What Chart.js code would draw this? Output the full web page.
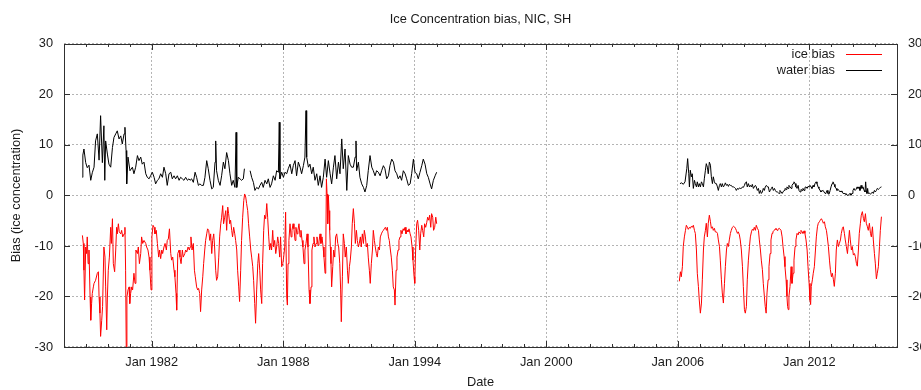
<!DOCTYPE html>
<html><head><meta charset="utf-8">
<script src="https://cdn.jsdelivr.net/npm/chart.js@4/dist/chart.umd.min.js"></script>
<style>html,body{margin:0;padding:0;background:#fff;}canvas{display:block;}</style>
</head><body>
<canvas id="c" width="921" height="390"></canvas>
<script>
const titleText = 'Ice Concentration bias, NIC, SH';
const xTitle = 'Date';
const yTitle = 'Bias (ice concentration)';
const seriesNames = ['ice bias', 'water bias'];
const xTickYears = [1982, 1988, 1994, 2000, 2006, 2012];
const yTickValues = [-30, -20, -10, 0, 10, 20, 30];

const iceYears = [
1978.84,1978.88,1978.91,1978.94,1978.99,1979.03,1979.06,1979.10,1979.14,1979.19,
1979.22,1979.26,1979.29,1979.34,1979.37,1979.44,1979.52,1979.57,1979.60,1979.64,
1979.67,1979.72,1979.76,1979.82,1979.87,1979.90,1979.95,1979.98,1980.02,1980.07,
1980.13,1980.16,1980.21,1980.25,1980.31,1980.36,1980.40,1980.43,1980.48,1980.52,
1980.59,1980.63,1980.68,1980.74,1980.78,1980.81,1980.84,1980.87,1980.92,1980.97,
1981.00,1981.04,1981.09,1981.13,1981.19,1981.24,1981.28,1981.35,1981.39,1981.44,
1981.50,1981.54,1981.59,1981.65,1981.73,1981.77,1981.83,1981.88,1981.92,1981.97,
1982.01,1982.06,1982.11,1982.15,1982.21,1982.26,1982.32,1982.36,1982.41,1982.46,
1982.50,1982.56,1982.61,1982.67,1982.71,1982.76,1982.81,1982.87,1982.91,1982.96,
1983.02,1983.06,1983.11,1983.14,1983.19,1983.25,1983.29,1983.34,1983.40,1983.44,
1983.51,1983.55,1983.60,1983.66,1983.72,
1983.75,1983.79,1983.84,1983.90,1983.95,1983.99,1984.05,1984.10,1984.14,1984.19,
1984.23,1984.28,1984.33,1984.37,1984.42,1984.46,1984.51,1984.55,1984.60,1984.65,
1984.69,1984.74,1984.78,1984.83,1984.87,1984.92,1984.96,1985.01,1985.06,1985.10,
1985.15,1985.19,1985.24,1985.28,1985.33,1985.38,1985.42,1985.47,1985.51,1985.56,
1985.60,1985.65,1985.69,1985.74,1985.79,1985.83,1985.88,1985.92,1985.97,1986.01,
1986.06,1986.10,1986.15,1986.20,1986.24,1986.29,1986.33,1986.38,1986.42,1986.47,
1986.52,1986.56,1986.61,1986.65,1986.70,1986.74,1986.79,1986.84,1986.88,1986.93,
1986.97,1987.02,1987.06,1987.11,1987.15,1987.20,1987.25,1987.29,1987.34,1987.38,
1987.43,1987.47,1987.52,1987.56,1987.61,1987.66,1987.70,1987.75,1987.79,1987.84,
1987.88,1987.93,1987.98,1988.02,1988.07,1988.11,1988.16,1988.19,1988.22,1988.26,
1988.31,1988.36,1988.40,1988.45,1988.49,1988.54,1988.58,1988.63,1988.67,1988.72,
1988.77,1988.81,1988.86,1988.90,1988.95,1988.99,1989.04,1989.09,1989.13,1989.18,
1989.22,1989.27,1989.31,1989.36,1989.40,
1989.45,1989.50,1989.54,1989.59,1989.63,1989.68,1989.72,1989.77,1989.82,1989.86,
1989.91,1989.94,1989.97,1990.00,1990.03,1990.06,1990.09,1990.12,1990.15,1990.18,
1990.21,1990.26,1990.30,1990.35,1990.39,1990.44,1990.49,1990.53,1990.58,1990.62,
1990.65,1990.70,1990.74,1990.79,1990.83,1990.88,1990.93,1990.97,1991.02,1991.06,
1991.11,1991.15,1991.20,1991.25,1991.29,1991.34,1991.38,1991.43,1991.47,1991.52,
1991.56,1991.61,1991.66,1991.70,1991.75,1991.79,1991.84,1991.88,1991.93,1991.97,
1992.02,1992.07,1992.11,1992.16,1992.20,1992.25,1992.29,1992.34,1992.39,1992.43,
1992.48,1992.52,1992.57,1992.61,1992.66,1992.71,1992.75,1992.80,1992.84,1992.89,
1992.93,1992.98,1993.02,1993.07,1993.10,1993.15,1993.19,1993.24,1993.28,1993.33,
1993.37,1993.42,1993.47,1993.51,1993.56,1993.60,1993.65,1993.69,1993.74,1993.79,
1993.83,1993.88,1993.92,1993.97,1994.00,1994.04,1994.09,1994.13,1994.18,1994.23,
1994.27,1994.32,1994.36,1994.41,1994.45,1994.50,1994.55,1994.59,1994.64,1994.68,
1994.73,1994.77,1994.82,1994.86,1994.91,1994.96,1995.00,
2000.00,
2006.07,2006.12,2006.16,2006.21,2006.25,2006.30,2006.35,2006.39,2006.44,2006.48,
2006.53,2006.57,2006.62,2006.66,2006.71,2006.76,2006.80,2006.85,2006.89,2006.94,
2006.98,2007.03,2007.08,2007.12,2007.17,2007.21,2007.26,2007.30,2007.35,2007.39,
2007.44,2007.49,2007.53,2007.58,2007.62,2007.67,2007.71,2007.76,2007.81,2007.85,
2007.90,2007.94,2007.99,2008.03,2008.08,2008.13,2008.17,2008.22,2008.26,2008.31,
2008.35,2008.40,2008.44,2008.49,2008.54,2008.58,2008.63,2008.67,2008.72,2008.76,
2008.81,2008.85,2008.90,2008.95,2008.99,2009.04,2009.08,2009.13,2009.17,2009.22,
2009.27,2009.31,2009.36,2009.40,2009.45,2009.49,2009.54,2009.58,2009.63,2009.68,
2009.72,2009.77,2009.81,2009.86,2009.90,2009.95,2009.99,2010.03,2010.07,2010.12,
2010.16,2010.21,2010.25,2010.30,2010.34,2010.39,2010.44,2010.48,2010.53,2010.57,
2010.63,
2010.66,2010.71,2010.76,2010.80,2010.85,2010.89,2010.94,2010.98,2011.01,2011.04,
2011.07,2011.12,2011.17,2011.21,2011.26,2011.30,2011.35,2011.39,2011.44,2011.49,
2011.53,2011.58,2011.62,2011.67,2011.71,2011.76,2011.80,2011.85,2011.90,2011.94,
2011.99,2012.03,2012.06,2012.09,2012.14,2012.18,2012.23,2012.28,2012.32,2012.37,
2012.41,2012.46,2012.50,2012.55,2012.59,2012.64,2012.69,2012.73,2012.78,2012.82,
2012.87,2012.92,2012.96,2013.01,2013.05,2013.10,2013.14,2013.19,2013.23,2013.28,
2013.33,2013.37,2013.42,2013.46,2013.51,2013.55,2013.60,2013.64,2013.69,2013.74,
2013.78,2013.83,2013.87,2013.92,2013.96,2014.01,2014.06,2014.10,2014.15,2014.19,
2014.24,2014.28,2014.33,2014.37,2014.42,2014.47,2014.51,2014.56,2014.60,2014.65,
2014.69,2014.74,2014.79,2014.83,2014.88,2014.92,2014.97,2015.01,2015.06,2015.10,
2015.15,2015.20,2015.24,2015.29
];
const iceBias = [
-7.9,-9.5,-14.8,-20.7,-10.2,-11.5,-8.2,-13.5,-10.8,-20.1,
-24.7,-21.4,-19.4,-18.1,-17.4,-16.8,-15.4,-15.1,-20.1,-23.3,
-27.9,-24.7,-22.0,-10.2,-12.2,-18.1,-26.6,-20.1,-14.8,-12.2,
-6.3,-9.5,-4.6,-13.5,-15.1,-10.8,-6.3,-7.6,-5.6,-7.2,
-7.6,-6.9,-8.2,-7.6,-6.3,-14.8,-30.5,-20.1,-18.7,-18.1,
-21.4,-19.4,-18.1,-18.7,-15.4,-17.4,-10.8,-11.5,-10.2,-13.5,
-11.5,-8.2,-9.5,-8.9,-9.5,-10.2,-10.8,-12.2,-14.8,-18.7,
-8.2,-5.9,-6.3,-7.6,-6.9,-9.5,-12.2,-10.8,-12.5,-10.8,
-11.5,-10.2,-9.5,-10.8,-8.9,-8.6,-6.6,-11.5,-12.8,-12.2,
-14.8,-16.1,-19.4,-22.7,-11.5,-10.8,-12.2,-13.5,-10.8,-12.2,
-11.5,-10.8,-11.2,-10.2,-10.8,
-10.2,-8.2,-10.8,-9.5,-14.8,-16.1,-18.1,-18.7,-18.4,-19.4,
-23.0,-18.7,-16.1,-13.5,-10.8,-8.9,-7.6,-6.6,-6.9,-8.9,
-7.6,-11.5,-8.9,-7.6,-10.2,-14.8,-16.8,-16.1,-12.2,-8.2,
-5.6,-4.3,-2.0,-5.6,-4.3,-3.0,-6.9,-2.3,-3.6,-5.6,
-4.9,-6.9,-8.2,-6.3,-7.6,-8.9,-10.8,-14.8,-18.1,-21.0,
-14.8,-8.9,-4.3,-1.0,0.3,-0.3,-1.6,-3.0,-5.6,-8.2,
-10.8,-12.2,-14.1,-16.8,-21.4,-25.3,-18.7,-13.5,-11.5,-14.8,
-18.7,-21.4,-13.5,-6.9,-3.9,-4.6,-1.6,-4.3,-8.2,-10.8,
-9.5,-10.8,-6.9,-10.2,-8.9,-11.5,-10.2,-8.2,-9.5,-12.2,
-8.2,-14.1,-13.5,-12.2,-10.2,-3.3,-20.1,-21.7,-13.5,-8.9,
-5.6,-8.2,-6.9,-5.6,-6.6,-8.9,-6.3,-7.6,-6.9,-5.6,
-8.2,-6.9,-8.9,-10.2,-13.5,-10.8,-9.5,-7.6,-10.2,-18.7,
-21.4,-18.1,-10.8,-9.5,-8.2,
-10.2,-9.5,-8.2,-9.9,-9.2,-7.6,-9.5,-8.2,-10.2,-12.2,
-15.4,-12.2,3.3,0.3,-5.6,0.0,-3.0,-6.9,-10.2,-13.5,
-18.1,-14.1,-10.8,-12.2,-8.2,-7.6,-9.5,-10.2,-13.5,-18.7,
-25.0,-16.1,-7.6,-9.5,-12.2,-10.2,-14.8,-17.4,-14.1,-12.8,
-10.2,-5.6,-2.6,-5.6,-9.5,-6.9,-8.9,-10.2,-9.5,-8.2,
-10.2,-7.6,-9.5,-6.9,-8.2,-10.2,-9.5,-12.2,-14.8,-17.4,
-13.5,-10.8,-6.9,-8.9,-10.2,-11.5,-12.2,-10.2,-10.8,-8.2,
-7.6,-7.2,-6.9,-6.6,-6.3,-6.9,-6.3,-8.2,-8.9,-10.8,
-12.2,-14.8,-18.1,-18.7,-21.7,-14.8,-12.2,-10.8,-8.9,-8.2,
-6.9,-7.6,-6.6,-6.9,-6.3,-7.6,-6.9,-7.2,-6.6,-7.6,
-8.2,-10.2,-12.8,-16.1,-17.4,-10.8,-5.6,-4.9,-6.9,-10.8,
-7.6,-5.9,-6.9,-8.2,-5.6,-6.3,-5.3,-4.3,-4.9,-3.9,
-6.3,-3.6,-4.3,-6.9,-6.3,-4.3,-5.6,
null,
-17.0,-15.1,-16.1,-14.1,-10.1,-8.2,-6.9,-5.9,-6.3,-6.7,
-6.3,-6.5,-6.1,-6.3,-5.9,-6.9,-7.5,-10.8,-15.4,-18.0,
-20.7,-23.3,-21.3,-16.7,-10.8,-8.2,-6.9,-5.5,-8.2,-5.5,
-3.9,-5.2,-6.5,-6.2,-6.9,-6.5,-7.2,-7.2,-7.5,-8.8,
-10.1,-12.8,-16.7,-19.3,-21.3,-17.4,-14.1,-10.8,-9.5,-10.1,
-8.8,-7.5,-6.9,-6.3,-6.1,-6.2,-6.5,-6.9,-7.5,-7.2,
-7.8,-8.8,-10.8,-14.1,-18.0,-22.6,-23.3,-22.0,-16.7,-12.8,
-10.1,-8.2,-7.2,-6.7,-6.9,-6.3,-6.9,-5.9,-6.5,-6.9,
-8.8,-10.8,-12.8,-14.7,-17.4,-20.0,-22.0,-23.3,-19.3,-16.7,
-14.1,-11.5,-8.8,-7.5,-7.2,-6.9,-6.7,-6.5,-6.9,-6.7,
-6.5,
-6.5,-6.9,-8.2,-10.1,-12.1,-14.1,-16.7,-20.0,-22.0,-22.6,
-20.0,-18.0,-14.1,-17.4,-15.4,-12.8,-10.1,-8.8,-7.5,-7.8,
-7.2,-7.5,-6.9,-7.2,-7.5,-7.0,-7.5,-8.8,-10.8,-14.1,
-17.4,-20.7,-21.6,-18.0,-16.7,-15.4,-14.1,-10.8,-8.2,-6.2,
-5.5,-5.2,-4.9,-4.6,-4.9,-5.5,-5.2,-6.2,-6.9,-8.2,
-10.1,-12.8,-14.7,-16.1,-15.4,-16.7,-18.0,-15.4,-10.8,-8.8,
-10.1,-9.5,-8.8,-7.5,-6.5,-6.2,-7.5,-8.8,-10.1,-11.5,
-9.5,-6.9,-8.8,-10.8,-10.1,-11.8,-11.5,-12.1,-13.5,-14.0,
-10.8,-7.5,-5.5,-3.9,-3.2,-4.6,-5.2,-3.6,-5.5,-6.2,
-6.9,-5.5,-7.5,-8.2,-6.2,-8.8,-11.5,-13.4,-16.5,-15.4,
-14.1,-10.1,-6.9,-4.2
];

const waterYears = [
1978.84,1978.86,1978.91,1978.99,1979.06,1979.14,1979.22,1979.29,1979.37,1979.44,
1979.52,1979.60,1979.67,1979.75,1979.82,1979.86,1979.90,1979.98,1980.05,1980.13,
1980.21,1980.28,1980.36,1980.43,1980.51,1980.59,1980.66,1980.74,1980.78,1980.83,
1980.86,1980.92,1981.01,1981.12,1981.19,1981.27,1981.35,1981.42,1981.50,1981.57,
1981.65,1981.73,1981.80,1981.88,1981.95,1982.03,1982.11,1982.18,1982.26,1982.33,
1982.41,1982.49,1982.56,1982.64,1982.71,1982.79,1982.87,1982.94,1983.02,1983.09,
1983.17,1983.25,1983.32,1983.40,1983.47,1983.55,1983.63,1983.70,
1983.75,1983.82,1983.90,1983.98,1984.05,1984.13,1984.20,1984.28,1984.36,1984.43,
1984.51,1984.58,1984.66,1984.74,1984.81,1984.89,1984.92,1984.96,1985.04,1985.12,
1985.19,1985.27,1985.34,1985.42,1985.50,1985.57,1985.65,1985.72,1985.80,1985.85,
1985.88,1985.95,1986.03,1986.10,1986.18,1986.23,1986.36,1986.49,1986.56,1986.64,
1986.71,1986.79,1986.87,1986.94,1987.02,1987.09,1987.17,1987.25,1987.32,1987.40,
1987.47,1987.55,1987.63,1987.70,1987.78,1987.82,1987.85,1987.93,1988.01,1988.08,
1988.16,1988.23,1988.31,1988.39,1988.46,1988.54,1988.61,1988.69,1988.77,1988.84,
1988.92,1988.99,1989.04,1989.07,1989.15,1989.22,1989.30,1989.37,
1989.45,1989.53,1989.60,1989.68,1989.75,1989.83,1989.91,1989.98,1990.06,1990.14,
1990.21,1990.29,1990.36,1990.44,1990.52,1990.59,1990.67,1990.74,1990.82,1990.90,
1990.97,1991.05,1991.12,1991.20,1991.28,1991.32,1991.35,1991.43,1991.50,1991.58,
1991.66,1991.73,1991.81,1991.88,1991.96,1992.04,1992.11,1992.19,1992.26,1992.34,
1992.42,1992.49,1992.57,1992.64,1992.72,1992.80,1992.87,1992.95,1993.03,1993.10,
1993.18,1993.25,1993.33,1993.40,1993.48,1993.56,1993.63,1993.71,1993.79,1993.86,
1993.94,1994.01,1994.09,1994.16,1994.24,1994.32,1994.39,1994.47,1994.55,1994.62,
1994.70,1994.77,1994.85,1994.93,1995.00,
2000.00,
2006.10,2006.18,2006.25,2006.33,2006.41,2006.45,2006.50,2006.53,2006.57,2006.62,
2006.66,2006.71,2006.76,2006.80,2006.85,2006.89,2006.94,2006.98,2007.03,2007.08,
2007.12,2007.17,2007.21,2007.26,2007.30,2007.35,2007.39,2007.44,2007.49,2007.53,
2007.58,2007.62,2007.67,2007.71,2007.76,2007.81,2007.85,2007.90,2007.94,2007.99,
2008.03,2008.08,2008.13,2008.17,2008.22,2008.26,2008.31,2008.35,2008.40,2008.44,
2008.49,2008.54,2008.58,2008.63,2008.67,2008.72,2008.76,2008.81,2008.85,2008.90,
2008.95,2008.99,2009.04,2009.08,2009.13,2009.17,2009.22,2009.27,2009.31,2009.36,
2009.40,2009.45,2009.49,2009.54,2009.58,2009.63,2009.68,2009.72,2009.77,2009.81,
2009.86,2009.90,2009.95,2009.99,2010.04,2010.09,2010.13,2010.18,2010.22,2010.27,
2010.31,2010.36,2010.41,2010.45,2010.50,2010.54,2010.59,2010.63,
2010.66,2010.71,2010.76,2010.80,2010.85,2010.89,2010.94,2010.98,2011.03,2011.07,
2011.12,2011.17,2011.21,2011.26,2011.30,2011.35,2011.39,2011.44,2011.49,2011.53,
2011.58,2011.62,2011.67,2011.71,2011.76,2011.80,2011.85,2011.90,2011.94,2011.99,
2012.03,2012.08,2012.12,2012.17,2012.21,2012.26,2012.31,2012.35,2012.40,2012.44,
2012.49,2012.53,2012.58,2012.63,2012.67,2012.72,2012.76,2012.81,2012.85,2012.90,
2012.95,2012.99,2013.04,2013.08,2013.13,2013.17,2013.22,2013.26,2013.31,2013.36,
2013.40,2013.45,2013.49,2013.54,2013.58,2013.63,2013.67,2013.72,2013.77,2013.81,
2013.86,2013.90,2013.95,2013.99,2014.04,2014.09,2014.13,2014.18,2014.22,2014.27,
2014.31,2014.36,2014.40,2014.45,2014.50,2014.54,2014.57,2014.60,2014.63,2014.66,
2014.69,2014.74,2014.79,2014.83,2014.88,2014.92,2014.97,2015.01,2015.06,2015.10,
2015.15,2015.20,2015.24,2015.29
];
const waterBias = [
3.6,8.0,9.2,6.5,5.5,6.0,3.0,4.5,5.6,10.8,
12.2,7.0,15.8,6.5,13.8,3.0,10.8,8.2,6.2,5.6,
9.5,11.5,12.2,12.8,11.2,11.8,10.2,12.2,13.5,8.9,
2.3,7.6,4.9,5.6,4.3,5.6,7.9,6.9,7.6,6.2,
6.6,4.3,3.6,3.3,3.9,4.6,3.6,2.3,3.0,3.3,
4.3,3.6,5.6,4.3,2.0,4.3,4.6,3.3,3.9,3.3,
3.9,3.0,3.6,3.3,3.0,3.6,3.0,3.3,
3.0,3.3,2.6,4.6,3.6,2.0,2.3,2.0,2.0,3.6,
6.9,5.3,3.0,1.3,1.6,6.6,10.8,4.9,3.0,2.0,
3.9,6.6,5.3,8.5,6.9,4.3,2.0,3.0,1.6,12.5,
1.6,3.6,3.3,3.0,3.3,5.3,null,4.9,3.6,2.6,
1.0,1.6,1.3,2.0,2.6,1.6,3.0,2.3,3.3,1.6,
2.3,3.9,3.0,4.9,4.6,14.5,3.3,4.6,3.6,4.6,
4.3,5.3,6.2,4.3,5.9,6.9,3.9,6.6,5.6,4.3,
5.9,7.6,16.8,7.6,5.6,6.2,4.3,5.6,
3.0,4.3,2.0,3.9,1.6,3.6,7.2,3.6,6.9,4.3,
2.3,5.6,7.9,3.3,6.6,4.3,11.2,5.3,9.2,1.0,
7.9,6.2,5.6,5.6,7.6,10.8,4.9,6.6,3.6,2.3,
1.6,0.7,2.0,4.9,7.9,5.6,4.9,3.9,4.9,4.6,
3.9,4.9,5.9,5.3,3.3,3.9,5.9,7.2,6.6,4.9,
4.3,3.3,3.9,3.0,4.9,4.3,3.3,2.0,2.3,4.3,
7.2,4.6,4.3,3.3,4.6,5.9,7.2,6.2,4.3,3.6,
2.3,1.3,3.0,3.9,4.6,
null,
2.35,2.5,2.2,2.7,5.3,7.3,4.3,1.7,5.0,3.7,
4.3,1.4,3.0,2.35,1.7,2.7,1.7,2.35,1.7,2.7,
2.35,1.7,3.3,5.0,6.3,5.6,4.3,6.6,6.0,3.7,
2.35,3.7,2.7,2.35,2.35,1.7,1.0,2.0,2.35,1.7,
2.35,1.7,2.0,2.5,2.0,2.2,1.8,2.2,2.0,2.0,
1.7,1.7,1.6,1.4,1.0,1.4,1.2,1.5,1.4,1.4,
1.7,1.6,2.0,2.5,2.7,1.7,2.35,1.7,2.0,1.7,
2.2,1.4,1.7,2.0,1.7,1.0,1.4,0.4,1.0,0.4,
0.7,1.4,1.0,1.7,2.0,1.7,1.7,0.7,1.0,1.4,
1.7,1.0,1.4,1.0,0.7,0.7,0.5,0.4,
1.0,0.7,0.4,0.7,1.0,1.4,1.2,1.7,1.4,2.0,
1.7,1.4,2.0,2.35,2.7,2.35,1.7,1.4,2.0,1.0,
0.7,1.2,1.0,1.4,1.0,1.6,1.7,1.4,1.8,1.7,
2.0,1.7,1.4,2.0,1.7,2.35,2.7,2.35,1.7,1.4,
1.0,0.7,0.9,1.0,0.7,0.4,0.5,1.0,0.4,0.25,
1.0,1.7,2.35,2.7,2.2,1.7,1.4,1.0,1.2,1.0,
0.7,0.9,0.7,0.4,0.5,0.25,0.4,0.05,0.05,0.05,
0.4,0.05,0.4,1.0,1.4,1.0,1.2,1.7,1.4,1.7,
1.0,2.0,1.4,1.7,1.0,0.7,2.7,1.0,0.4,1.4,
0.4,0.5,0.25,0.4,0.7,0.4,1.0,0.7,1.0,1.4,
1.2,1.4,1.6,1.7
];

const FONT = '"Liberation Sans", Arial, Helvetica, sans-serif';
const TEXT = '#1a1a1a';
const FS = 12.8;
Chart.defaults.font.family = FONT;
Chart.defaults.font.size = FS;
Chart.defaults.color = TEXT;

const toPts = (xs, ys) => xs.map((x, i) => ({ x: x, y: ys[i] }));

const frameLegend = {
  id: 'frameLegend',
  afterDatasetsDraw(chart) {
    const { ctx, chartArea: a, scales } = chart;
    const xs = scales.x, ys = scales.y;
    ctx.save();
    ctx.strokeStyle = '#303030';
    ctx.lineWidth = 1;
    ctx.beginPath();
    for (let yr = Math.ceil(xs.min); yr <= xs.max; yr++) {
      const px = Math.round(xs.getPixelForValue(yr)) + 0.5;
      const len = xTickYears.includes(yr) ? 6 : 3;
      ctx.moveTo(px, a.bottom); ctx.lineTo(px, a.bottom - len);
      ctx.moveTo(px, a.top); ctx.lineTo(px, a.top + len);
    }
    for (const v of yTickValues) {
      const py = Math.round(ys.getPixelForValue(v)) + 0.5;
      ctx.moveTo(a.left, py); ctx.lineTo(a.left + 6, py);
      ctx.moveTo(a.right, py); ctx.lineTo(a.right - 6, py);
    }
    ctx.stroke();
    ctx.strokeRect(Math.round(a.left) + 0.5, Math.round(a.top) + 0.5,
                   Math.round(a.right - a.left), Math.round(a.bottom - a.top));
    // key (top right, text then line sample)
    ctx.font = FS + 'px ' + FONT;
    ctx.textAlign = 'right';
    ctx.textBaseline = 'middle';
    chart.data.datasets.forEach((ds, i) => {
      const y = a.top + 10.5 + 16 * i;
      ctx.fillStyle = TEXT;
      ctx.fillText(ds.label, a.right - 62, y);
      ctx.strokeStyle = ds.borderColor;
      ctx.beginPath();
      ctx.moveTo(a.right - 51, Math.round(y) + 0.5);
      ctx.lineTo(a.right - 15, Math.round(y) + 0.5);
      ctx.stroke();
    });
    ctx.restore();
  }
};

new Chart(document.getElementById('c'), {
  type: 'line',
  data: {
    datasets: [
      { label: seriesNames[0], data: toPts(iceYears, iceBias), borderColor: '#ff0000', backgroundColor: '#ff0000', borderWidth: 1, borderJoinStyle: 'bevel', pointRadius: 0, spanGaps: false, tension: 0 },
      { label: seriesNames[1], data: toPts(waterYears, waterBias), borderColor: '#000000', backgroundColor: '#000000', borderWidth: 1, borderJoinStyle: 'bevel', pointRadius: 0, spanGaps: false, tension: 0 }
    ]
  },
  options: {
    responsive: false,
    animation: false,
    devicePixelRatio: 1,
    layout: { padding: 0 },
    events: [],
    plugins: {
      legend: { display: false },
      tooltip: { enabled: false },
      title: {
        display: true, text: titleText, fullSize: false,
        padding: { top: 12, bottom: 16.6 },
        font: { size: FS, weight: 'normal', family: FONT }, color: TEXT
      }
    },
    scales: {
      x: {
        type: 'linear', position: 'bottom', min: 1978, max: 2016,
        afterBuildTicks: s => { s.ticks = xTickYears.map(v => ({ value: v })); },
        afterFit: s => { s.height = 43; },
        ticks: { callback: v => 'Jan ' + v, padding: 8, maxRotation: 0, autoSkip: false, color: TEXT },
        grid: { color: '#b4b4b4', lineWidth: 1, drawTicks: false },
        border: { display: false, dash: [2, 2] },
        title: { display: true, text: xTitle, padding: { top: 0, bottom: 0 }, color: TEXT, font: { size: FS } }
      },
      y: {
        type: 'linear', position: 'left', min: -30, max: 30,
        afterBuildTicks: s => { s.ticks = yTickValues.map(v => ({ value: v })); },
        afterFit: s => { s.width = 64; },
        ticks: { padding: 11, color: TEXT },
        grid: { color: '#b4b4b4', lineWidth: 1, drawTicks: false },
        border: { display: false, dash: [2, 2] },
        title: { display: true, text: yTitle, padding: { top: 9, bottom: 0 }, color: TEXT, font: { size: FS } }
      },
      y2: {
        type: 'linear', position: 'right', min: -30, max: 30,
        afterBuildTicks: s => { s.ticks = yTickValues.map(v => ({ value: v })); },
        afterFit: s => { s.width = 24; },
        ticks: { padding: 11, color: TEXT },
        grid: { display: false, drawTicks: false },
        border: { display: false }
      }
    }
  },
  plugins: [frameLegend]
});
</script>
</body></html>
